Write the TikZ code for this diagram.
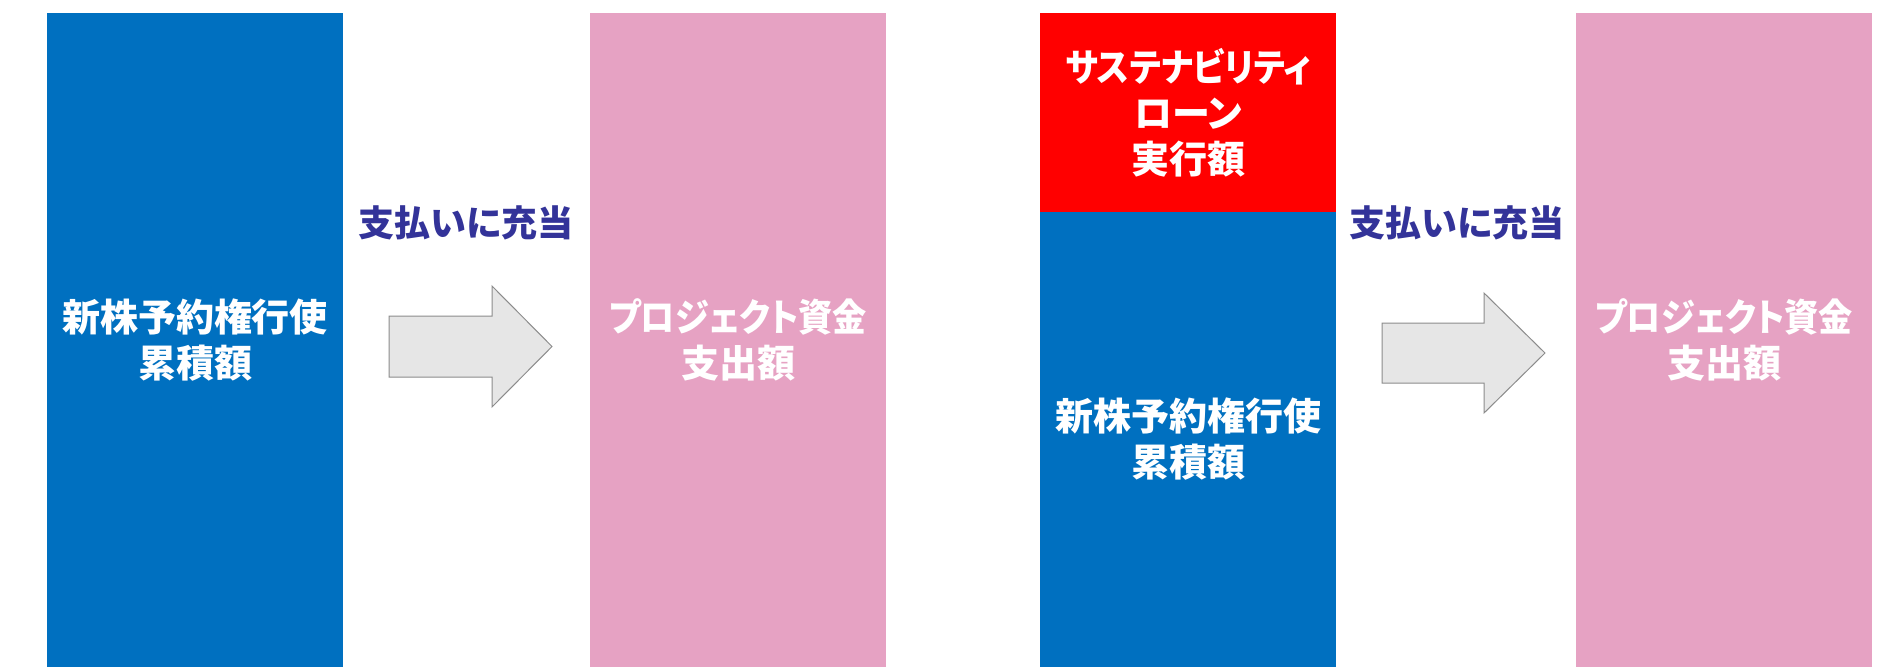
\documentclass[tikz,border=0pt]{standalone}
\usepackage{fontspec}
\newfontfamily\jp{Noto Sans CJK JP}[RawFeature=+palt]
\newfontfamily\jpn{Noto Sans CJK JP}[RawFeature=+palt, FakeStretch=0.9]
\definecolor{barblue}{HTML}{0070C0}
\definecolor{barpink}{HTML}{E6A2C3}
\definecolor{barred}{HTML}{FF0000}
\definecolor{lblblue}{HTML}{333399}
\definecolor{arrfill}{HTML}{E6E6E6}
\definecolor{arrline}{HTML}{8C8C8C}
\tikzset{
  bar/.style={rectangle, inner sep=0pt, outer sep=0pt, minimum width=296pt, text=white, align=center,
    font=\jp\bfseries\fontsize{38}{46}\selectfont},
  lbl/.style={inner sep=0pt, text=lblblue, font=\jp\bfseries\fontsize{36}{40}\selectfont},
  bigarrow/.style={fill=arrfill, draw=arrline, line width=1pt, line join=miter}
}
\begin{document}
\begin{tikzpicture}[x=1pt,y=-1pt]
\useasboundingbox[fill=white] (0,0) rectangle (1888,667);
% left group
\node[bar, fill=barblue, minimum height=654pt] (b1) at (195,340) {新株予約権行使\\累積額};
\node[bar, fill=barpink, minimum height=654pt] (p1) at (738,340) {{\jpn\bfseries プロジェクト資金}\\支出額};
\node[lbl] (l1) at (466,223) {支払いに充当};
\draw[bigarrow] (389,316) -- (492,316) -- (492,286) -- (552,346.5) -- (492,407) -- (492,377) -- (389,377) -- cycle;
% right group
\node[bar, fill=barred, minimum height=199pt] (r2) at (1188,112.5) {{\jpn\bfseries サステナビリティ}\\ローン\\実行額};
\node[bar, fill=barblue, minimum height=455pt] (b2) at (1188,439.5) {新株予約権行使\\累積額};
\node[bar, fill=barpink, minimum height=654pt] (p2) at (1724,340) {{\jpn\bfseries プロジェクト資金}\\支出額};
\node[lbl] (l2) at (1457,223) {支払いに充当};
\draw[bigarrow] (1382,323) -- (1484,323) -- (1484,293) -- (1545,353) -- (1484,413) -- (1484,383) -- (1382,383) -- cycle;
\end{tikzpicture}
\end{document}
